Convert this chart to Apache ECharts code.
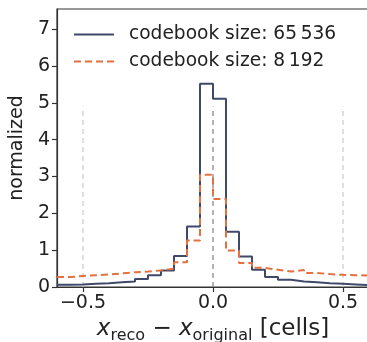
<!DOCTYPE html>
<html>
<head>
<meta charset="utf-8">
<style>
html,body{margin:0;padding:0;background:#fff;}
#chart{width:367px;height:342px;}
</style>
<script src="https://cdn.jsdelivr.net/npm/echarts@6/dist/echarts.min.js"></script>
</head>
<body>
<div id="chart"></div>
<script>
// Bin left edges (width 0.05) and final right edge
const binEdges = [-0.60,-0.55,-0.50,-0.45,-0.40,-0.35,-0.30,-0.25,-0.20,-0.15,-0.10,-0.05,
                   0.00, 0.05, 0.10, 0.15, 0.20, 0.25, 0.30, 0.35, 0.40, 0.45, 0.50, 0.55, 0.60];
const seriesNames = ['codebook size: 65\u2009536', 'codebook size: 8\u2009192'];
const valuesLarge = [0.06,0.07,0.09,0.10,0.13,0.15,0.22,0.32,0.45,0.84,1.64,5.52,
                     5.11,1.50,0.83,0.47,0.27,0.20,0.15,0.13,0.10,0.09,0.07,0.05];
const valuesSmall = [0.27,0.30,0.32,0.34,0.37,0.40,0.42,0.45,0.50,0.67,1.26,3.05,
                     2.39,0.99,0.65,0.52,0.47,0.42,0.46,0.38,0.35,0.33,0.32,0.31];
const refLinesX = [-0.5, 0.0, 0.5];
const refLineTop = 4.9;
const xTicks = [-0.5, 0.0, 0.5];
const yTicks = [0,1,2,3,4,5,6,7];

function stepData(vals){
  const d = vals.map((v,i)=>[binEdges[i], v]);
  d.push([binEdges[vals.length], vals[vals.length-1]]);
  return d;
}

const chart = echarts.init(document.getElementById('chart'));
const font = 'DejaVu Sans';
const refSeries = refLinesX.map((x,i)=>({
  type:'line', silent:true, symbol:'none', z:1,
  data:[[x,0],[x,refLineTop]],
  lineStyle:{color: x===0 ? '#8a8a8a' : '#d0d0d0', width:1.3, type:[5,4]}
}));

chart.setOption({
  animation:false,
  textStyle:{fontFamily:font},
  grid:{left:57, top:9, right:-2, bottom:55, outerBoundsMode:'none', containLabel:false,
        show:true, borderColor:'#333', borderWidth:1.2, backgroundColor:'transparent'},
  legend:{
    left:73, top:21, orient:'vertical', padding:0, itemGap:0,
    itemWidth:40, itemHeight:14,
    itemStyle:{opacity:0},
    data: seriesNames,
    textStyle:{fontFamily:font, fontSize:18.6, color:'#222', lineHeight:27, padding:[0,0,0,10]}
  },
  xAxis:{
    type:'value', min:-0.6, max:0.6,
    axisLine:{show:true, onZero:false, lineStyle:{color:'#333', width:1.2}},
    axisTick:{show:true, length:5, customValues:xTicks, lineStyle:{color:'#333', width:1.2}},
    axisLabel:{customValues:xTicks, fontSize:19, color:'#222', margin:7,
      formatter:v=>(v<0?'\u2212':'')+Math.abs(v).toFixed(1)},
    splitLine:{show:false},
    name:'{i|x}{s|reco}{n| \u2212 }{i|x}{s|original}{n| [cells]}',
    nameLocation:'middle', nameGap:27,
    nameTextStyle:{
      rich:{
        i:{fontFamily:font, fontStyle:'italic', fontSize:23, color:'#222'},
        n:{fontFamily:font, fontSize:23, color:'#222'},
        s:{fontFamily:font, fontSize:16, color:'#222', verticalAlign:'top', padding:[13,0,0,0]}
      }
    }
  },
  yAxis:{
    type:'value', min:0, max:7.55,
    axisLine:{show:true, onZero:false, lineStyle:{color:'#333', width:1.2}},
    axisTick:{show:true, length:5, customValues:yTicks, lineStyle:{color:'#333', width:1.2}},
    axisLabel:{customValues:yTicks, fontSize:19, color:'#222', margin:7},
    splitLine:{show:false},
    name:'normalized', nameLocation:'middle', nameGap:25,
    nameTextStyle:{fontSize:19, color:'#222'}
  },
  series:[
    ...refSeries,
    {name:seriesNames[0], type:'line', step:'end', symbol:'none', z:3,
     data:stepData(valuesLarge), itemStyle:{color:'#3f4a6a'},
     lineStyle:{color:'#3f4a6a', width:2}},
    {name:seriesNames[1], type:'line', step:'end', symbol:'none', z:4,
     data:stepData(valuesSmall), itemStyle:{color:'#e4703d'},
     lineStyle:{color:'#e4703d', width:2, type:[7,4]}}
  ]
});
</script>
</body>
</html>
